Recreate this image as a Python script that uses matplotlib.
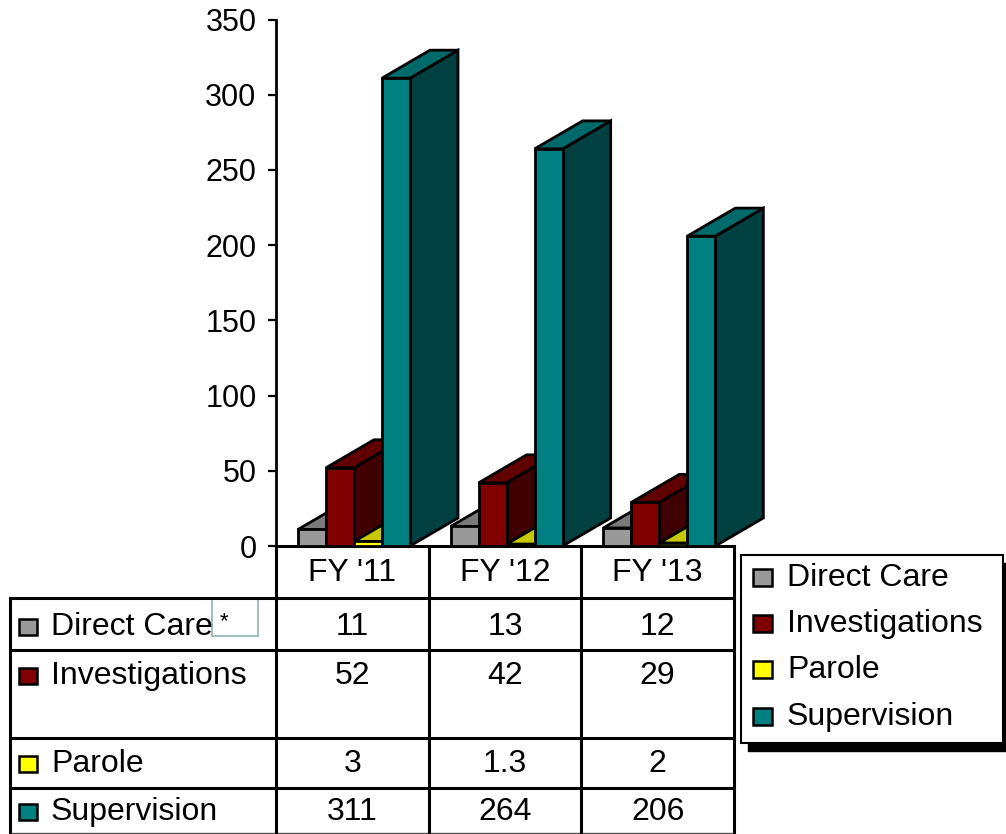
import matplotlib.pyplot as plt
from matplotlib.patches import Polygon, Rectangle

plt.rcParams["font.family"] = ["Liberation Sans", "DejaVu Sans"]

# data
categories = ["FY '11", "FY '12", "FY '13"]
series_names = ["Direct Care", "Investigations", "Parole", "Supervision"]
direct_care = [11, 13, 12]
investigations = [52, 42, 29]
parole = [3, 1.3, 2]
supervision = [311, 264, 206]
y_ticks = [0, 50, 100, 150, 200, 250, 300, 350]

series_values = [direct_care, investigations, parole, supervision]

# front / top / side shades for each series
shades = [
    ("#999999", "#7a7a7a", "#4c4c4c"),
    ("#800000", "#600000", "#400000"),
    ("#ffff00", "#c8c800", "#808000"),
    ("#008080", "#006a6a", "#004040"),
]

W, H = 1006, 834
fig = plt.figure(figsize=(W / 100, H / 100), dpi=100)

# overlay axes in pixel units for the data table and legend
ov = fig.add_axes([0, 0, 1, 1])
ov.set_xlim(0, W)
ov.set_ylim(H, 0)
ov.axis("off")

# chart axes: x = category columns, y = values
x_left, x_right = 276, 734
y_zero, y_top = 546, 19.5
ax = fig.add_axes([x_left / W, (H - y_zero) / H,
                   (x_right - x_left) / W, (y_zero - y_top) / H])
ax.set_facecolor("none")
ax.set_xlim(0, len(categories))
ax.set_ylim(0, 350)
ax.set_yticks(y_ticks)
ax.set_xticks([])
for s in ["top", "right", "bottom"]:
    ax.spines[s].set_visible(False)
ax.spines["left"].set_linewidth(2)
ax.tick_params(axis="y", direction="out", length=6, width=1.6,
               labelsize=22, pad=8)

# 3-D look: depth offset in data units
px_per_cat = (x_right - x_left) / len(categories)
px_per_val = (y_zero - y_top) / 350
DX = 48 / px_per_cat
DY = 28 / px_per_val
bar_w = 28 / px_per_cat
bar_off = 22 / px_per_cat


def draw_bar(x0, h, cols, z):
    front_c, top_c, side_c = cols
    side = [(x0 + bar_w, 0), (x0 + bar_w + DX, DY),
            (x0 + bar_w + DX, h + DY), (x0 + bar_w, h)]
    top = [(x0, h), (x0 + bar_w, h), (x0 + bar_w + DX, h + DY), (x0 + DX, h + DY)]
    front = [(x0, 0), (x0 + bar_w, 0), (x0 + bar_w, h), (x0, h)]
    for pts, c in [(side, side_c), (top, top_c), (front, front_c)]:
        ax.add_patch(Polygon(pts, closed=True, facecolor=c, edgecolor="black",
                             linewidth=2, joinstyle="miter", clip_on=False,
                             zorder=z))


z = 3
for i in range(len(categories)):
    for j, vals in enumerate(series_values):
        draw_bar(i + bar_off + j * bar_w, vals[i], shades[j], z)
        z += 1

# data table
lw = 2.2
fs = 23
col_x = [x_left + k * px_per_cat for k in range(len(categories) + 1)]
table_left = 10
row_edges = [598, 650, 738, 788, 833]
row_text_y = [627, 676, 764, 812]

ov.plot([col_x[0], col_x[-1]], [y_zero, y_zero], color="black", lw=lw)
for y in row_edges[:-1]:
    ov.plot([table_left, col_x[-1]], [y, y], color="black", lw=lw)
ov.plot([table_left, col_x[-1]], [row_edges[-1], row_edges[-1]],
        color="#555555", lw=1)
ov.plot([table_left, table_left], [row_edges[0], H], color="black", lw=lw)
ov.plot([col_x[0], col_x[0]], [y_zero, H], color="black", lw=lw)
for x in col_x[1:]:
    ov.plot([x, x], [y_zero, H], color="black", lw=lw)

for k, cat in enumerate(categories):
    ov.text((col_x[k] + col_x[k + 1]) / 2, 573, cat, ha="center",
            va="center", fontsize=fs)

for j, name in enumerate(series_names):
    ty = row_text_y[j]
    ov.add_patch(Rectangle((19, ty - 8), 18, 16, facecolor=shades[j][0],
                           edgecolor="black", linewidth=1.8))
    ov.text(51, ty, name, ha="left", va="center", fontsize=fs)
    for k in range(len(categories)):
        ov.text((col_x[k] + col_x[k + 1]) / 2, ty,
                f"{series_values[j][k]:g}", ha="center", va="center",
                fontsize=fs)

# footnote marker box next to "Direct Care"
ov.add_patch(Rectangle((212, 598), 46, 38, facecolor="none",
                       edgecolor="#8fb0b0", linewidth=1.2))
ov.text(224, 622, "*", ha="center", va="center", fontsize=16)

# legend
leg_x, leg_y, leg_w, leg_h = 741, 555, 262, 188
ov.add_patch(Rectangle((leg_x + 7, leg_y + 8), leg_w, leg_h,
                       facecolor="black", edgecolor="black", clip_on=False))
ov.add_patch(Rectangle((leg_x, leg_y), leg_w, leg_h, facecolor="white",
                       edgecolor="black", linewidth=1.5))
legend_y = [578, 624, 670, 717]
for j, name in enumerate(series_names):
    ly = legend_y[j]
    ov.add_patch(Rectangle((753, ly - 9), 19, 17, facecolor=shades[j][0],
                           edgecolor="black", linewidth=1.8))
    ov.text(787, ly, name, ha="left", va="center", fontsize=fs)

fig.savefig("out.png", dpi=100)
